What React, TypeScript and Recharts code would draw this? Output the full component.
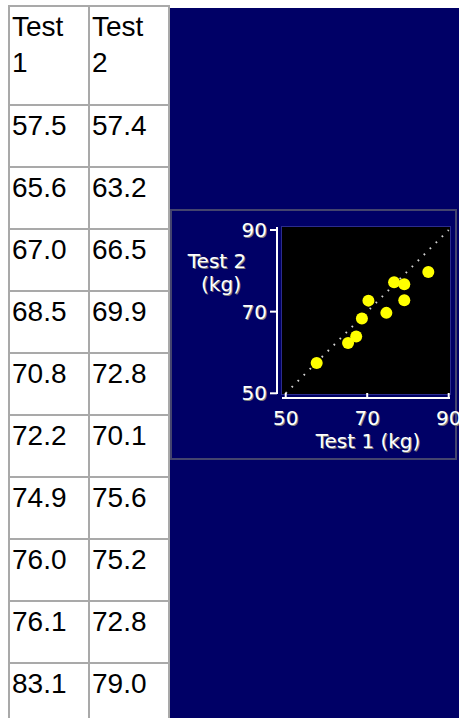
import { ScatterChart, Scatter, XAxis, YAxis, CartesianGrid, ReferenceLine } from 'recharts'

// table values (as printed on the left)
const test1 = ['57.5', '65.6', '67.0', '68.5', '70.8', '72.2', '74.9', '76.0', '76.1', '83.1']
const test2 = ['57.4', '63.2', '66.5', '69.9', '72.8', '70.1', '75.6', '75.2', '72.8', '79.0']
const headers = [['Test', '1'], ['Test', '2']]

// points
const plotX = [57.6, 65.3, 67.3, 68.7, 70.3, 74.7, 76.6, 79.1, 79.1, 85.0]
const plotY = [57.4, 62.3, 63.9, 68.3, 72.7, 69.7, 77.2, 76.7, 72.8, 79.7]
const axisTicks = [50, 70, 90]
const identityEnds = [50, 90]
const xTitle = 'Test 1 (kg)'
const yTitle = ['Test 2', '(kg)']

const points = plotX.map((x, i) => ({ x, y: plotY[i] }))

const NAVY = '#000066'
const LINE = '#a9a9a9'
const pixFont = '"DejaVu Sans", sans-serif'

// white pixel-ish text with a grey drop shadow
const PixText = ({ x, y, anchor, children }: any) => (
    <text
        x={x} y={y} fill="#ffffff" textAnchor={anchor}
        fontFamily={pixFont} fontSize={20}
        style={{ textShadow: '1px 1px 0 #7c7c7c' }}
    >
        {children}
    </text>
)

const XTick = ({ x, y, payload }: any) => (
    <g>
        <line x1={x} x2={x} y1={y + 4} y2={y - 1} stroke="#fff" strokeWidth={2} />
        <PixText x={x} y={y + 31} anchor="middle">{payload.value}</PixText>
    </g>
)

const YTick = ({ x, y, payload }: any) => (
    <g>
        <line x1={x - 5} x2={x - 12} y1={y} y2={y} stroke="#fff" strokeWidth={2} />
        <PixText x={x - 15} y={y + 7} anchor="end">{payload.value}</PixText>
    </g>
)

const XTitle = ({ viewBox }: any) => (
    <PixText x={viewBox.x + 86} y={viewBox.y + 54} anchor="middle">{xTitle}</PixText>
)

const YTitle = ({ viewBox }: any) => (
    <g>
        <PixText x={viewBox.x + 47} y={viewBox.y + 41} anchor="middle">{yTitle[0]}</PixText>
        <PixText x={viewBox.x + 51} y={viewBox.y + 64} anchor="middle">{yTitle[1]}</PixText>
    </g>
)

const Dot = ({ cx, cy }: any) => <circle cx={cx} cy={cy} r={6} fill="#ffff00" />

const cellStyle = (w: number, h: number, header = false): React.CSSProperties => ({
    boxSizing: 'border-box',
    width: w,
    height: h,
    borderTop: `2px solid ${LINE}`,
    borderLeft: `2px solid ${LINE}`,
    padding: header ? '2px 0 0 2px' : '4px 0 0 2px',
    fontFamily: '"Liberation Sans", Arial, sans-serif',
    fontSize: 28,
    lineHeight: header ? '36px' : '32px',
    color: '#000',
})

const App = () => {
    return (
        <div style={{ position: 'fixed', left: 0, top: 0, width: 459, height: 718, overflow: 'hidden', background: '#fff' }}>
            {/* data table */}
            <div style={{
                position: 'absolute', left: 8, top: 5,
                display: 'grid', gridTemplateColumns: '80px 80px',
                gridTemplateRows: `99px repeat(${test1.length}, 62px)`,
                borderRight: `2px solid ${LINE}`,
            }}>
                {headers.map((h, i) => (
                    <div key={'h' + i} style={cellStyle(80, 99, true)}>{h[0]}<br />{h[1]}</div>
                ))}
                {test1.map((v, i) => [
                    <div key={'a' + i} style={cellStyle(80, 62)}>{v}</div>,
                    <div key={'b' + i} style={cellStyle(80, 62)}>{test2[i]}</div>,
                ])}
            </div>

            {/* navy cell with the framed plot */}
            <div style={{ position: 'absolute', left: 170, top: 8, width: 289, height: 710, background: NAVY }} />
            <div style={{
                position: 'absolute', left: 170, top: 209, width: 287, height: 251,
                boxSizing: 'border-box', border: '2px solid #44446e', background: NAVY,
            }} />
            <div style={{
                position: 'absolute', left: 281, top: 226, width: 170, height: 169,
                boxSizing: 'border-box', border: '1px solid #2c2c8c',
            }} />

            <div style={{ position: 'absolute', left: 170, top: 209 }}>
                <ScatterChart width={289} height={252} margin={{ top: 18, right: 9, bottom: 0, left: 0 }}>
                    <CartesianGrid fill="#000000" fillOpacity={1} horizontal={false} vertical={false} />
                    <XAxis
                        type="number" dataKey="x" domain={[50, 90]} ticks={axisTicks}
                        allowDataOverflow height={67} padding={{ left: 3.7, right: 1.3 }}
                        tickSize={0} tickMargin={0} tick={<XTick />}
                        axisLine={{ stroke: '#fff', strokeWidth: 2, transform: 'translate(0,4)' } as any}
                        tickLine={false} interval={0}
                        label={<XTitle />}
                    />
                    <YAxis
                        type="number" dataKey="y" domain={[50, 90]} ticks={axisTicks}
                        allowDataOverflow width={112} padding={{ top: 3, bottom: 0.7 }}
                        tickSize={0} tickMargin={0} tick={<YTick />}
                        axisLine={{ stroke: '#fff', strokeWidth: 2, transform: 'translate(-5,0)' } as any}
                        tickLine={false} interval={0}
                        label={<YTitle />}
                    />
                    <ReferenceLine
                        segment={[{ x: identityEnds[0], y: identityEnds[0] }, { x: identityEnds[1], y: identityEnds[1] }]}
                        stroke="#d0d0d0" strokeWidth={2} strokeDasharray="1.6 6.9" ifOverflow="visible"
                    />
                    <Scatter data={points} shape={<Dot />} isAnimationActive={false} />
                </ScatterChart>
            </div>
        </div>
    )
}

export default App
